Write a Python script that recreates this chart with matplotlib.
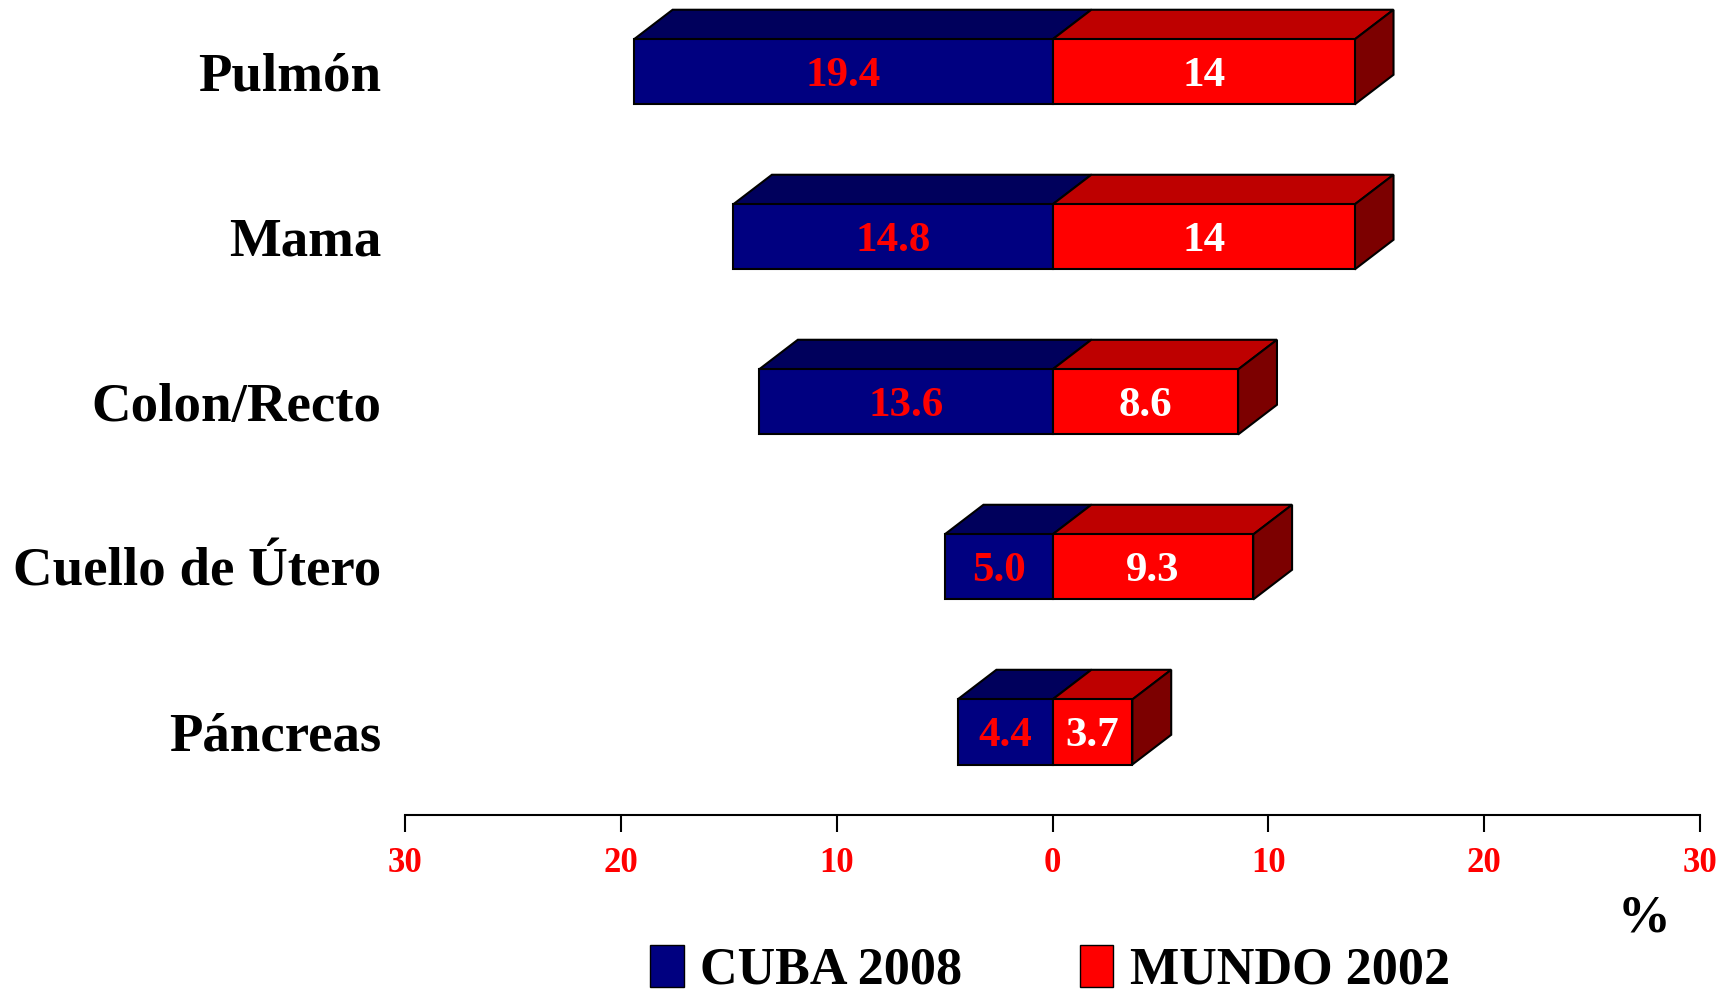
import numpy as np
import matplotlib.pyplot as plt
from matplotlib.patches import Polygon, Patch

# datos
categorias = ["Pulmón", "Mama", "Colon/Recto", "Cuello de Útero", "Páncreas"]
cuba   = [19.4, 14.8, 13.6, 5.0, 4.4]
mundo  = [14, 14, 8.6, 9.3, 3.7]
ticks  = [-30, -20, -10, 0, 10, 20, 30]

plt.rcParams['font.family'] = ['Liberation Serif', 'DejaVu Serif']
plt.rcParams['font.weight'] = 'bold'

azul, azul_top = "#000080", "#00005C"
rojo, rojo_top, rojo_lado = "#FF0000", "#BE0000", "#7C0000"

fig = plt.figure(figsize=(17.34, 9.96), dpi=100)
ax = fig.add_axes([405/1734, 181/996, 1295/1734, 815/996])

y = np.arange(len(categorias))[::-1]
h = 0.394
dx, dy = 1.8, 0.18

ax.barh(y, [-c for c in cuba], height=h, color=azul, edgecolor="black", linewidth=1.5, zorder=3)
ax.barh(y, mundo, height=h, color=rojo, edgecolor="black", linewidth=1.5, zorder=3)

# caras 3D
for yi, c, m in zip(y, cuba, mundo):
    t = yi + h/2
    b = yi - h/2
    ax.add_patch(Polygon([(-c, t), (0, t), (dx, t+dy), (-c+dx, t+dy)], closed=True,
                         facecolor=azul_top, edgecolor="black", linewidth=1.5, zorder=2))
    ax.add_patch(Polygon([(0, t), (m, t), (m+dx, t+dy), (dx, t+dy)], closed=True,
                         facecolor=rojo_top, edgecolor="black", linewidth=1.5, zorder=2))
    ax.add_patch(Polygon([(m, b), (m, t), (m+dx, t+dy), (m+dx, b+dy)], closed=True,
                         facecolor=rojo_lado, edgecolor="black", linewidth=1.5, zorder=2))
    ax.text(-c/2, yi - 0.025, f"{c:.1f}", color="red", ha="center", va="center",
            fontsize=31, fontweight="bold", zorder=4)
    ax.text(m/2, yi - 0.025, f"{m:g}", color="white", ha="center", va="center",
            fontsize=31, fontweight="bold", zorder=4)

ax.set_xlim(-30, 30)
ax.set_ylim(-0.503, 4.436)
ax.set_xticks(ticks)
ax.set_xticklabels([str(abs(t)) for t in ticks], color="red", fontsize=25, fontweight="bold")
ax.tick_params(axis="x", direction="out", length=12, width=1.5, pad=11)
ax.set_yticks(y)
ax.set_yticklabels(categorias, fontsize=39.5, fontweight="bold")
ax.tick_params(axis="y", length=0, pad=17)
for s in ["top", "right", "left"]:
    ax.spines[s].set_visible(False)
ax.spines["bottom"].set_linewidth(1.5)

fig.text(1644/1734, 1-918/996, "%", ha="center", va="center", fontsize=38, fontweight="bold")

handles = [Patch(facecolor=azul, edgecolor="black", label="CUBA 2008"),
           Patch(facecolor=rojo, edgecolor="black", label="MUNDO 2002")]
fig.legend(handles=handles, loc="center", bbox_to_anchor=(1050/1734, 26/996), ncol=2,
           frameon=False, fontsize=37.5, handlelength=0.64, handleheight=0.86,
           handletextpad=0.32, columnspacing=2.25, borderpad=0)

fig.savefig("out.png", dpi=100)
